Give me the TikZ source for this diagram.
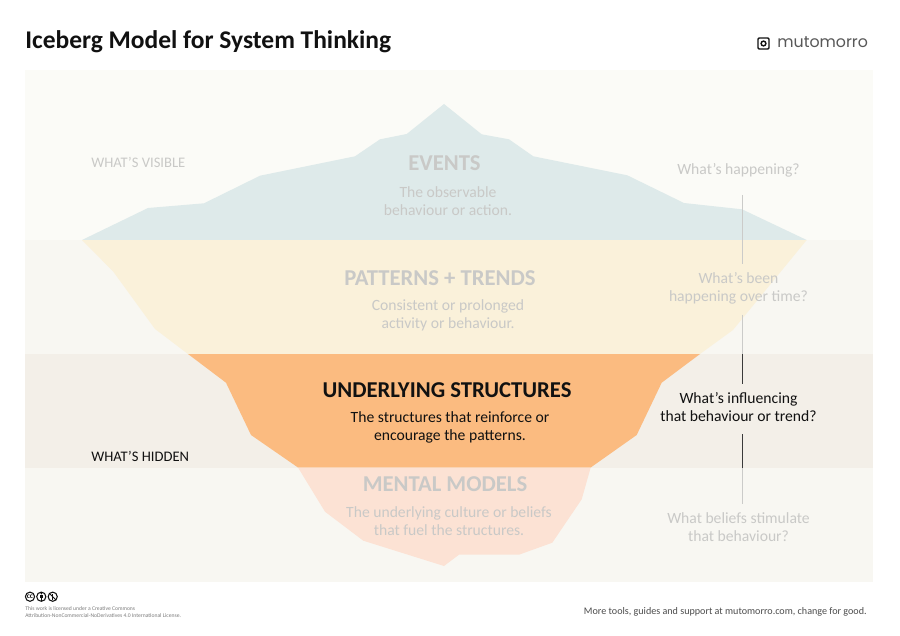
\documentclass[tikz,border=0pt]{standalone}
\usepackage{fontspec}
\setmainfont{Carlito}
\setsansfont{Carlito}
\newfontfamily\brandfont{Poppins}
\usetikzlibrary{calc}
\definecolor{ibInk}{HTML}{111111}
\definecolor{ibFaint}{HTML}{C9C9C7}
\definecolor{ibBandA}{HTML}{FBFBF7}
\definecolor{ibBandB}{HTML}{F8F7F2}
\definecolor{ibBandC}{HTML}{F3EFE8}
\definecolor{ibBandD}{HTML}{F8F7F2}
\definecolor{ibEvents}{HTML}{DEEAEA}
\definecolor{ibPatterns}{HTML}{FAF1DA}
\definecolor{ibStructures}{HTML}{FBBB80}
\definecolor{ibMental}{HTML}{FCE2D4}
\definecolor{ibRuleDark}{HTML}{3A3A3A}
\definecolor{ibRuleLight}{HTML}{CBCBC9}

\begin{document}
\begin{tikzpicture}[x=0.2mm,y=-0.2mm,
  font=\sffamily\fontsize{9}{10.2}\selectfont,text=ibInk,
  ibhead/.style={font=\sffamily\bfseries\fontsize{12.9}{15}\selectfont,inner sep=0pt},
  ibbody/.style={font=\sffamily\fontsize{8.9}{10.2}\selectfont,align=center,inner sep=0pt},
  ibside/.style={font=\sffamily\fontsize{8.3}{10}\selectfont,inner sep=0pt},
  ibfaint/.style={text=ibFaint},
  ibrule/.style={line width=0.6pt},
  ibmark/.style={line width=0.6pt,draw=ibInk}]
  \path[use as bounding box] (0,0) rectangle (900,636);
  \fill[white] (0,0) rectangle (900,636);

  \node[anchor=west,inner sep=0pt,font=\sffamily\bfseries\fontsize{14.5}{17}\selectfont] (title) at (25,41.5)
    {Iceberg Model for System Thinking};
  \node[anchor=west,inner sep=0pt,text=ibInk!70,font=\brandfont\fontsize{9}{11}\selectfont] (brand) at (777,42.5)
    {mutomorro};
  \draw[ibInk,line width=0.8pt,rounded corners=0.6pt] (758,38) rectangle (769,49);
  \draw[ibInk,line width=0.8pt] (763.5,43.5) circle (2.4);

  % The four depth bands behind the berg.
  \fill[ibBandA] (25,70) rectangle (873,240);
  \fill[ibBandB] (25,240) rectangle (873,354);
  \fill[ibBandC] (25,354) rectangle (873,468);
  \fill[ibBandD] (25,468) rectangle (873,582);

  \fill[ibEvents] (82,240)--(148,208)--(204,203.3)--(260,175.7)--(355,156.3)--(380,139.3)--(406.7,134)
    --(444,104)--(481.7,134.3)--(509,139.3)--(533.3,156.3)--(627.3,175.3)--(684,203)--(742,209.3)--(806.7,240)--cycle;
  \fill[ibPatterns] (82,240)--(113.3,271.7)--(155,329)--(188,354)--(700,354)--(733,330)--(806.7,240)--cycle;
  \fill[ibStructures] (188,354)--(226,382.7)--(251,435)--(298,467.5)--(590.7,467.5)--(636.7,435)--(661.7,382.7)--(700,354)--cycle;
  \fill[ibMental] (298,467.5)--(325,511.7)--(363.3,540.7)--(444,566)--(459,554.7)--(519,554.7)--(552.3,542.7)--(581.7,499.3)--(590.7,467.5)--cycle;

  \node[ibside,ibfaint,anchor=west] (visible) at (91,162) {WHAT’S VISIBLE};
  \node[ibside,anchor=west] (hidden) at (91,456.5) {WHAT’S HIDDEN};

  \node[ibhead,ibfaint] (events) at (444.5,163) {EVENTS};
  \node[ibbody,ibfaint] (eventsText) at (448,201.5) {The observable\\behaviour or action.};
  \node[ibhead,ibfaint] (patterns) at (440,278) {PATTERNS + TRENDS};
  \node[ibbody,ibfaint] (patternsText) at (448,315.5) {Consistent or prolonged\\activity or behaviour.};
  \node[ibhead] (structures) at (447,390.5) {UNDERLYING STRUCTURES};
  \node[ibbody] (structuresText) at (450,427) {The structures that reinforce or\\encourage the patterns.};
  \node[ibhead,ibfaint] (mental) at (445,484.5) {MENTAL MODELS};
  \node[ibbody,ibfaint] (mentalText) at (449,521) {The underlying culture or beliefs\\that fuel the structures.};

  \node[ibbody,ibfaint] (askEvents) at (738.5,170) {What’s happening?};
  \node[ibbody,ibfaint] (askPatterns) at (738.5,288) {What’s been\\happening over time?};
  \node[ibbody] (askStructures) at (738.5,407.5) {What’s influencing\\that behaviour or trend?};
  \node[ibbody,ibfaint] (askMental) at (738.5,527.5) {What beliefs stimulate\\that behaviour?};

  \foreach \n/\y in {a/195,b/264.3,c/314.7,d/354,e/383.5,f/434,g/468,h/503.5}
    {\coordinate (rule\n) at (742.5,\y);}
  \draw[ibrule,draw=ibRuleLight] (rulea)--(ruleb);
  \draw[ibrule,draw=ibRuleLight] (rulec)--(ruled);
  \draw[ibrule,draw=ibRuleDark] (ruled)--(rulee);
  \draw[ibrule,draw=ibRuleDark] (rulef)--(ruleg);
  \draw[ibrule,draw=ibRuleLight] (ruleg)--(ruleh);

  % Licence marks, then the small print.
  \foreach \x in {30,41.3,52.7}
    {\draw[ibmark] (\x,596.7) circle (4.6);}
  \node[inner sep=0pt,font=\sffamily\bfseries\fontsize{4.2}{5}\selectfont] (markCc) at (30,596.5) {cc};
  \fill[ibInk] (41.3,593.6) circle (0.9);
  \fill[ibInk] (40,595.2) rectangle (42.6,598.2);
  \fill[ibInk] (40.6,598.2) rectangle (42,600.6);
  \draw[ibmark,line width=0.5pt] (49.5,593.5)--(55.9,599.9);
  \draw[ibmark,line width=0.9pt] (52.7,593.8)--(52.7,599.6);
  \node[anchor=north west,align=left,inner sep=0pt,text=ibInk!55,font=\sffamily\fontsize{3.2}{4}\selectfont] (licence) at (25,606.5)
    {This work is licensed under a Creative Commons\\Attribution-NonCommercial-NoDerivatives 4.0 International License.};
  \node[anchor=east,inner sep=0pt,text=ibInk!75,font=\sffamily\fontsize{5.75}{7}\selectfont] (more) at (867,612)
    {More tools, guides and support at mutomorro.com, change for good.};
\end{tikzpicture}
\end{document}
